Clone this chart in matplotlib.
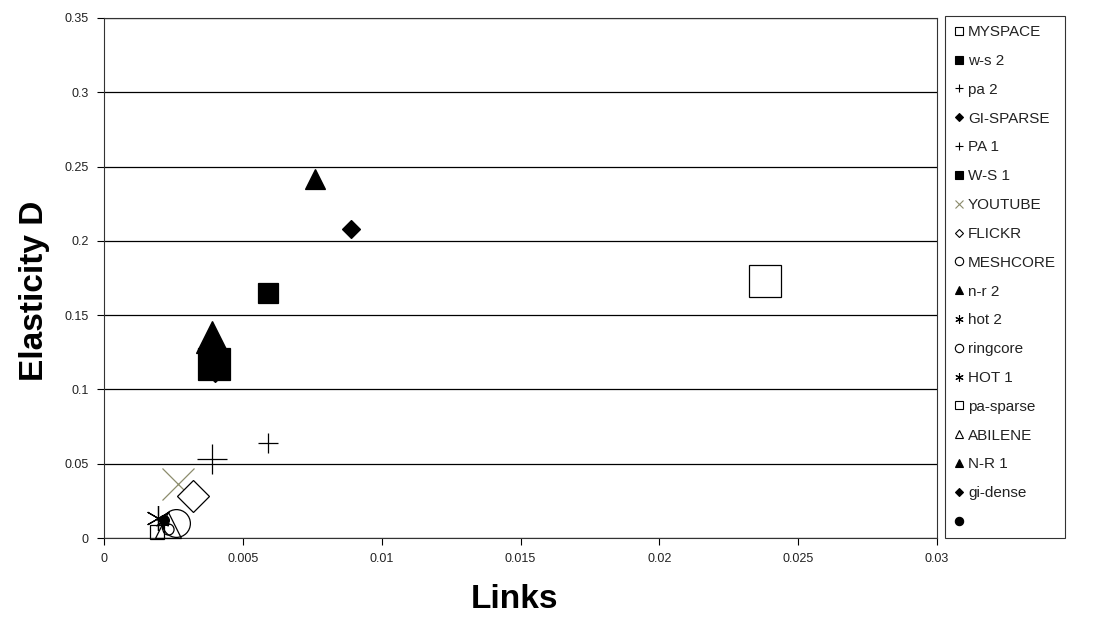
import matplotlib
matplotlib.use("Agg")
import matplotlib.pyplot as plt

plt.rcParams['font.family'] = ['Liberation Sans', 'DejaVu Sans']

# series (Excel-style scatter, one point per series)
names = ['MYSPACE', 'w-s 2', 'pa 2', 'GI-SPARSE', 'PA 1', 'W-S 1', 'YOUTUBE',
         'FLICKR', 'MESHCORE', 'n-r 2', 'hot 2', 'ringcore', 'HOT 1',
         'pa-sparse', 'ABILENE', 'N-R 1', 'gi-dense', '']
links = [0.0238, 0.0059, 0.0059, 0.0089, 0.0039, 0.00396, 0.00267,
         0.00322, 0.00259, 0.00388, 0.0021, 0.0023, 0.00194,
         0.0019, 0.00232, 0.0076, 0.0040, 0.00216]
elasticity = [0.1727, 0.1646, 0.064, 0.2083, 0.053, 0.117, 0.0363,
              0.0282, 0.0101, 0.135, 0.011, 0.006, 0.0134,
              0.004, 0.0085, 0.2417, 0.113, 0.012]

# marker styles
ast = (6, 2, 0)
markers = ['s', 's', '+', 'D', '+', 's', 'x', 'D', 'o', '^', ast, 'o', ast,
           's', '^', '^', 'D', 'o']
sizes = [23, 14.5, 14, 9, 22, 23, 23, 16, 20, 23, 10, 8, 18, 10, 19, 14, 12, 7]
# 'y' filled, 'w' white fill, 'n' no fill
fills = ['w', 'y', 'y', 'y', 'y', 'y', 'y', 'w', 'n', 'y',
         'y', 'n', 'y', 'n', 'n', 'y', 'y', 'y']
colors = ['black'] * len(names)
colors[6] = '#8c8c6c'

fig = plt.figure(figsize=(10.96, 6.36), dpi=100)
ax = fig.add_axes([0.0949, 0.154, 0.7601, 0.8177])

for i in range(len(names)):
    face = {'y': colors[i], 'w': 'white', 'n': 'none'}[fills[i]]
    ax.plot([links[i]], [elasticity[i]], linestyle='none', marker=markers[i],
            markersize=sizes[i], markerfacecolor=face,
            markeredgecolor=colors[i], markeredgewidth=0.9,
            label=names[i] if names[i] else ' ', zorder=3, clip_on=False)

ax.set_xlim(0, 0.03)
ax.set_ylim(0, 0.35)
ax.set_xticks([0, 0.005, 0.01, 0.015, 0.02, 0.025, 0.03])
ax.set_xticklabels(['0', '0.005', '0.01', '0.015', '0.02', '0.025', '0.03'])
ax.set_yticks([0, 0.05, 0.1, 0.15, 0.2, 0.25, 0.3, 0.35])
ax.set_yticklabels(['0', '0.05', '0.1', '0.15', '0.2', '0.25', '0.3', '0.35'])
ax.yaxis.grid(True, color='black', linewidth=0.9)
ax.set_axisbelow(True)
ax.tick_params(direction='out', length=5, width=0.8, labelsize=9,
               labelcolor='#222222', pad=6)
for s in ax.spines.values():
    s.set_linewidth(0.8)
    s.set_color('#333333')

ax.set_xlabel('Links', fontsize=24, fontweight='bold')
ax.set_ylabel('Elasticity D', fontsize=24, fontweight='bold')
ax.xaxis.set_label_coords(0.493, -0.119)
ax.yaxis.set_label_coords(-0.083, 0.475)
ax.xaxis.label.set_va('center')
ax.yaxis.label.set_va('center')

leg = fig.legend(loc='upper left', bbox_to_anchor=(945 / 1096, 1 - 16 / 636),
                 fontsize=11, frameon=True, fancybox=False, edgecolor='black',
                 labelspacing=0.97, handlelength=0.6, handletextpad=0.3,
                 borderpad=0.6, borderaxespad=0)
leg.get_frame().set_linewidth(0.8)
for t in leg.get_texts():
    t.set_color('#222222')
for h, m in zip(leg.legend_handles, markers):
    h.set_markersize(4.5 if m == 'D' else 6)
    h.set_markeredgewidth(0.8)

fig.savefig('out.png', dpi=100)
